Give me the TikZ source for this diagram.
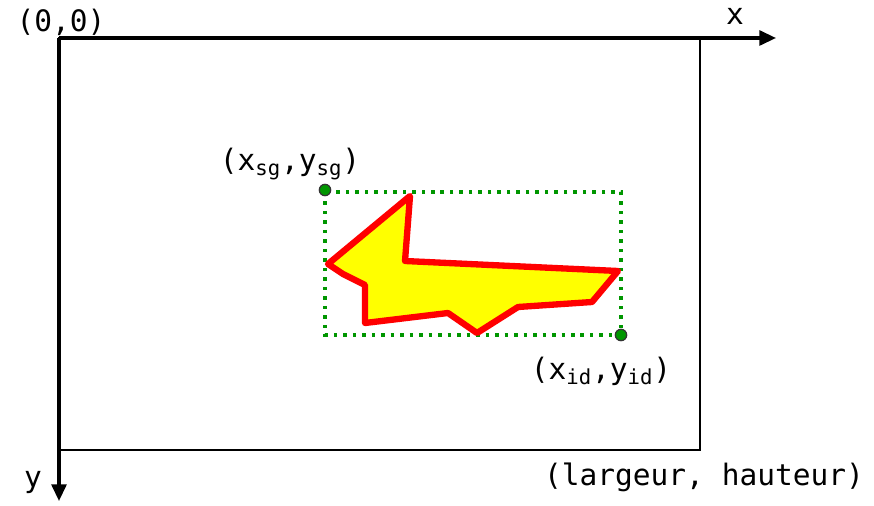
\documentclass[tikz,border=0pt]{standalone}
\usepackage{fontspec}
\setmonofont{DejaVu Sans Mono}
\definecolor{boxgreen}{RGB}{0,150,0}
\definecolor{shapered}{RGB}{255,0,0}
\definecolor{shapeyellow}{RGB}{255,255,0}
\usetikzlibrary{arrows.meta,positioning}

\begin{document}
\begin{tikzpicture}[x=0.02cm, y=-0.02cm,
    axis/.style={line width=1.8pt, -{Triangle[length=9.5pt, width=8.5pt]}},
    frame/.style={line width=1pt},
    label/.style={font=\ttfamily\fontsize{16.8}{19}\selectfont, inner sep=0pt},
    bbox/.style={boxgreen, line width=2.2pt, dash pattern=on 2pt off 3.4pt},
    corner/.style={circle, fill=boxgreen, draw=black!80, line width=0.7pt,
                   minimum size=6.5pt, inner sep=0pt},
    region/.style={draw=shapered, fill=shapeyellow, line width=3.6pt, line join=round}]

\useasboundingbox (0,0) rectangle (874,506);

% image frame
\coordinate (O) at (59,38);
\coordinate (xend) at (776,38);
\coordinate (yend) at (59,501);
\draw[frame] (O) rectangle (700,450);
\draw[axis] (O) -- (xend);
\draw[axis] (O) -- (yend);

\node[label] (origin) at (61,22) {(0,0)};
\node[label] (xlabel) at (735,16) {x};
\node[label] (ylabel) at (33,482) {y};
\node[label] (size) at (704,477) {(largeur, hauteur)};

% bounding box of the region
\draw[bbox] (325,192) rectangle (621,335);

\draw[region] (410,196) -- (405,261) -- (618,271) -- (592,302) -- (518,307)
    -- (477,333) -- (448,313) -- (365,323) -- (365,285) -- (343,274)
    -- (328,264) -- cycle;

\node[corner] (sg) at (325,190) {};
\node[corner] (id) at (621,335) {};
\node[label] (sglabel) at (290,164) {(x\textsubscript{sg},y\textsubscript{sg})};
\node[label] (idlabel) at (601,371) {(x\textsubscript{id},y\textsubscript{id})};
\end{tikzpicture}
\end{document}
